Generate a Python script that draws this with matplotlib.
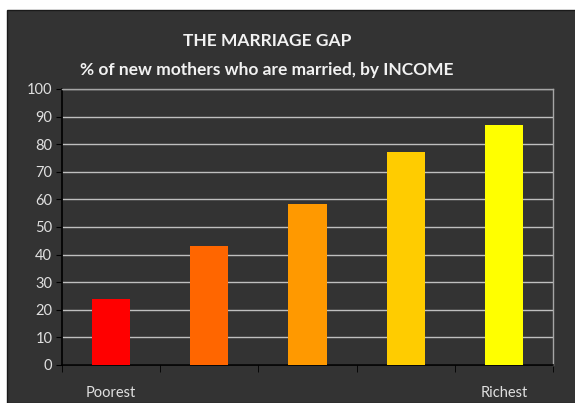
import numpy as np
import matplotlib.pyplot as plt
from matplotlib.patches import Rectangle

groups = ['Poorest', '', '', '', 'Richest']
married_pct = [24, 43, 58.5, 77, 87]
bar_colors = ['#FF0000', '#FF6600', '#FF9900', '#FFCC00', '#FFFF00']

fig = plt.figure(figsize=(5.75, 4.03), dpi=100)
fig.patch.set_facecolor('white')
# dark chart panel
fig.patches.append(Rectangle((7 / 575, 0), 1, 1 - 10 / 403, transform=fig.transFigure,
                             facecolor='#333333', edgecolor='#1a1a1a', lw=1, zorder=-5))

ax = fig.add_axes([62 / 575, 38 / 403, 491 / 575, 276 / 403])
ax.set_zorder(2)
ax.set_facecolor('#333333')

x = np.arange(len(groups))
ax.bar(x, married_pct, width=0.39, color=bar_colors, zorder=3)

ax.set_xlim(-0.5, len(groups) - 0.5)
ax.set_ylim(0, 100)
ax.set_yticks(range(0, 101, 10))
ax.yaxis.grid(True, color='#bfbfbf', lw=1, zorder=1)

ax.set_xticks(x)
ax.set_xticklabels(groups)
ax.set_xticks(np.arange(-0.5, len(groups), 1), minor=True)
ax.tick_params(axis='x', which='major', length=0, pad=15, labelsize=10.5, labelcolor='#e0e0e0')
ax.tick_params(axis='x', which='minor', length=5, color='black', direction='out')
ax.tick_params(axis='y', length=4, color='black', labelsize=10.5, labelcolor='#e0e0e0', pad=3)

for side in ['left', 'bottom']:
    ax.spines[side].set_color('black')
    ax.spines[side].set_linewidth(1.2)
for side in ['top', 'right']:
    ax.spines[side].set_color('#a6a6a6')
    ax.spines[side].set_linewidth(1)

for lab in ax.get_xticklabels() + ax.get_yticklabels():
    lab.set_family('Lato')

fig.text(267 / 575, 1 - 41 / 403, 'THE MARRIAGE GAP', ha='center', va='center',
         color='#f2f2f2', fontsize=12.5, fontweight='bold', family='Lato')
fig.text(267 / 575, 1 - 70 / 403, '% of new mothers who are married, by INCOME', ha='center',
         va='center', color='#f2f2f2', fontsize=12.5, fontweight='bold', family='Lato')

fig.savefig('out.png', dpi=100, facecolor=fig.get_facecolor())
